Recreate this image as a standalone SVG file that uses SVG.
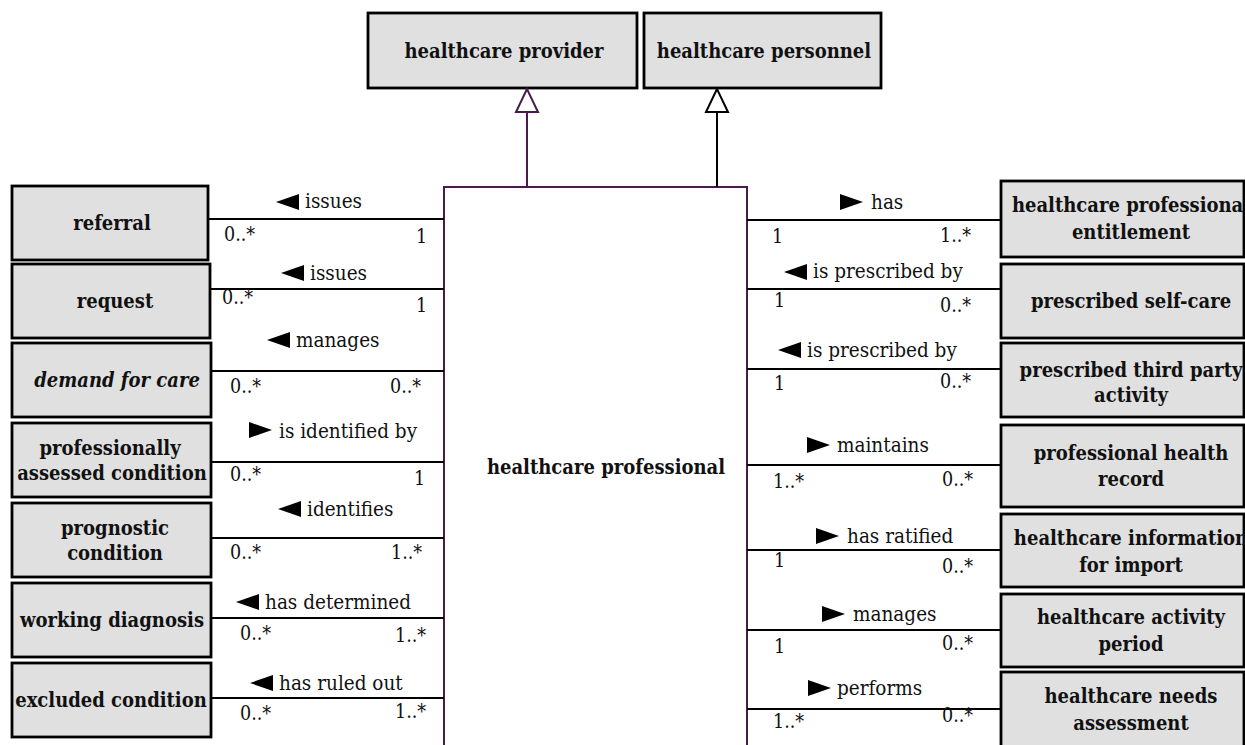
<svg xmlns="http://www.w3.org/2000/svg" xmlns:xlink="http://www.w3.org/1999/xlink" width="1245" height="745" viewBox="0 0 1245 745">
  <style>
    .box { fill: #e0e0e0; stroke: #000; stroke-width: 2.8; }
    .core { fill: #fff; stroke: #4a1a4c; stroke-width: 2; }
    .name { font-family: "DejaVu Serif Condensed", "DejaVu Serif", serif; font-stretch: condensed; font-weight: bold; font-size: 20px; fill: #111; text-anchor: middle; }
    .ital { font-style: italic; }
    .lbl { font-family: "DejaVu Serif Condensed", "DejaVu Serif", serif; font-stretch: condensed; font-size: 20.5px; fill: #111; }
    .mult { font-family: "DejaVu Serif Condensed", "DejaVu Serif", serif; font-stretch: condensed; font-size: 19.5px; fill: #111; }
    .assoc { stroke: #000; stroke-width: 2; fill: none; }
    .gen { stroke-width: 2; fill: none; }
    .dir { fill: #000; }
  </style>
  <defs>
    <polygon id="tri-left" class="dir" points="0,8 23,0 23,16"/>
    <polygon id="tri-right" class="dir" points="0,0 23,8 0,16"/>
  </defs>

  <rect width="1245" height="745" fill="#fff"/>

  <!-- supertypes -->
  <g id="healthcare-provider">
    <rect class="box" x="368" y="13" width="269" height="75"/>
    <text class="name" x="504" y="58">healthcare provider</text>
  </g>
  <g id="healthcare-personnel">
    <rect class="box" x="644" y="13" width="237" height="75"/>
    <text class="name" x="764" y="58">healthcare personnel</text>
  </g>

  <!-- central class -->
  <g id="healthcare-professional">
    <rect class="core" x="444" y="187" width="303" height="580"/>
    <text class="name" x="606" y="474">healthcare professional</text>
  </g>

  <!-- left-hand classes -->
  <g id="referral">
    <rect class="box" x="12" y="186" width="196" height="74"/>
    <text class="name" x="112" y="230">referral</text>
  </g>
  <g id="request">
    <rect class="box" x="12" y="264" width="198" height="74"/>
    <text class="name" x="115" y="308">request</text>
  </g>
  <g id="demand-for-care">
    <rect class="box" x="12" y="343" width="199" height="74"/>
    <text class="name ital" x="117" y="387">demand for care</text>
  </g>
  <g id="professionally-assessed-condition">
    <rect class="box" x="12" y="423" width="199" height="74"/>
    <text class="name" x="110" y="455">professionally</text>
    <text class="name" x="112" y="480">assessed condition</text>
  </g>
  <g id="prognostic-condition">
    <rect class="box" x="12" y="503" width="199" height="74"/>
    <text class="name" x="115" y="535">prognostic</text>
    <text class="name" x="115" y="560">condition</text>
  </g>
  <g id="working-diagnosis">
    <rect class="box" x="12" y="583" width="199" height="74"/>
    <text class="name" x="112" y="627">working diagnosis</text>
  </g>
  <g id="excluded-condition">
    <rect class="box" x="12" y="663" width="199" height="74"/>
    <text class="name" x="111" y="707">excluded condition</text>
  </g>

  <!-- right-hand classes -->
  <g id="healthcare-professional-entitlement">
    <rect class="box" x="1001" y="181" width="243" height="76"/>
    <text class="name" x="1131" y="212">healthcare professional</text>
    <text class="name" x="1131" y="239">entitlement</text>
  </g>
  <g id="prescribed-self-care">
    <rect class="box" x="1001" y="264" width="243" height="74"/>
    <text class="name" x="1131" y="308">prescribed self-care</text>
  </g>
  <g id="prescribed-third-party-activity">
    <rect class="box" x="1001" y="343" width="243" height="74"/>
    <text class="name" x="1131" y="377">prescribed third party</text>
    <text class="name" x="1131" y="402">activity</text>
  </g>
  <g id="professional-health-record">
    <rect class="box" x="1001" y="425" width="243" height="82"/>
    <text class="name" x="1131" y="460">professional health</text>
    <text class="name" x="1131" y="486">record</text>
  </g>
  <g id="healthcare-information-for-import">
    <rect class="box" x="1001" y="514" width="243" height="73"/>
    <text class="name" x="1131" y="545">healthcare information</text>
    <text class="name" x="1131" y="572">for import</text>
  </g>
  <g id="healthcare-activity-period">
    <rect class="box" x="1001" y="594" width="243" height="73"/>
    <text class="name" x="1131" y="624">healthcare activity</text>
    <text class="name" x="1131" y="651">period</text>
  </g>
  <g id="healthcare-needs-assessment">
    <rect class="box" x="1001" y="672" width="243" height="90"/>
    <text class="name" x="1131" y="703">healthcare needs</text>
    <text class="name" x="1131" y="730">assessment</text>
  </g>

  <!-- connectors -->
  <g id="connectors">
    <!-- generalizations -->
    <line class="gen" x1="527" y1="112" x2="527" y2="187" stroke="#4a1a4c"/>
    <polygon points="527,89 516,112 538,112" fill="#fff" stroke="#4a1a4c" stroke-width="2"/>
    <line class="gen" x1="717" y1="112" x2="717" y2="187" stroke="#000"/>
    <polygon points="717,89 706,112 728,112" fill="#fff" stroke="#000" stroke-width="2"/>

    <!-- left associations -->
    <line class="assoc" x1="208" y1="219" x2="444" y2="219"/>
    <use xlink:href="#tri-left" x="276" y="194"/>
    <text class="lbl" x="305" y="208">issues</text>
    <text class="mult" x="224" y="241">0..*</text>
    <text class="mult" x="416" y="243">1</text>

    <line class="assoc" x1="210" y1="289" x2="444" y2="289"/>
    <use xlink:href="#tri-left" x="281" y="265"/>
    <text class="lbl" x="310" y="280">issues</text>
    <text class="mult" x="222" y="304">0..*</text>
    <text class="mult" x="416" y="312">1</text>

    <line class="assoc" x1="211" y1="371" x2="444" y2="371"/>
    <use xlink:href="#tri-left" x="267" y="332"/>
    <text class="lbl" x="296" y="347">manages</text>
    <text class="mult" x="230" y="393">0..*</text>
    <text class="mult" x="390" y="393">0..*</text>

    <line class="assoc" x1="211" y1="462" x2="444" y2="462"/>
    <use xlink:href="#tri-right" x="249" y="422"/>
    <text class="lbl" x="279" y="438">is identified by</text>
    <text class="mult" x="230" y="481">0..*</text>
    <text class="mult" x="414" y="485">1</text>

    <line class="assoc" x1="211" y1="538" x2="444" y2="538"/>
    <use xlink:href="#tri-left" x="278" y="501"/>
    <text class="lbl" x="307" y="516">identifies</text>
    <text class="mult" x="230" y="559">0..*</text>
    <text class="mult" x="391" y="559">1..*</text>

    <line class="assoc" x1="211" y1="618" x2="444" y2="618"/>
    <use xlink:href="#tri-left" x="236" y="594"/>
    <text class="lbl" x="265" y="609">has determined</text>
    <text class="mult" x="240" y="640">0..*</text>
    <text class="mult" x="395" y="642">1..*</text>

    <line class="assoc" x1="211" y1="698" x2="444" y2="698"/>
    <use xlink:href="#tri-left" x="250" y="675"/>
    <text class="lbl" x="279" y="690">has ruled out</text>
    <text class="mult" x="240" y="720">0..*</text>
    <text class="mult" x="395" y="718">1..*</text>

    <!-- right associations -->
    <line class="assoc" x1="747" y1="220" x2="1001" y2="220"/>
    <use xlink:href="#tri-right" x="840" y="194"/>
    <text class="lbl" x="871" y="209">has</text>
    <text class="mult" x="772" y="243">1</text>
    <text class="mult" x="940" y="242">1..*</text>

    <line class="assoc" x1="747" y1="289" x2="1001" y2="289"/>
    <use xlink:href="#tri-left" x="784" y="264"/>
    <text class="lbl" x="813" y="278">is prescribed by</text>
    <text class="mult" x="774" y="307">1</text>
    <text class="mult" x="940" y="312">0..*</text>

    <line class="assoc" x1="747" y1="369" x2="1001" y2="369"/>
    <use xlink:href="#tri-left" x="778" y="342"/>
    <text class="lbl" x="807" y="357">is prescribed by</text>
    <text class="mult" x="774" y="390">1</text>
    <text class="mult" x="940" y="388">0..*</text>

    <line class="assoc" x1="747" y1="465" x2="1001" y2="465"/>
    <use xlink:href="#tri-right" x="807" y="437"/>
    <text class="lbl" x="837" y="452">maintains</text>
    <text class="mult" x="773" y="488">1..*</text>
    <text class="mult" x="942" y="486">0..*</text>

    <line class="assoc" x1="747" y1="550" x2="1001" y2="550"/>
    <use xlink:href="#tri-right" x="816" y="528"/>
    <text class="lbl" x="847" y="543">has ratified</text>
    <text class="mult" x="774" y="567">1</text>
    <text class="mult" x="942" y="573">0..*</text>

    <line class="assoc" x1="747" y1="630" x2="1001" y2="630"/>
    <use xlink:href="#tri-right" x="822" y="606"/>
    <text class="lbl" x="853" y="621">manages</text>
    <text class="mult" x="774" y="653">1</text>
    <text class="mult" x="942" y="650">0..*</text>

    <line class="assoc" x1="747" y1="709" x2="1001" y2="709"/>
    <use xlink:href="#tri-right" x="808" y="680"/>
    <text class="lbl" x="837" y="695">performs</text>
    <text class="mult" x="773" y="728">1..*</text>
    <text class="mult" x="942" y="722">0..*</text>
  </g>
</svg>
